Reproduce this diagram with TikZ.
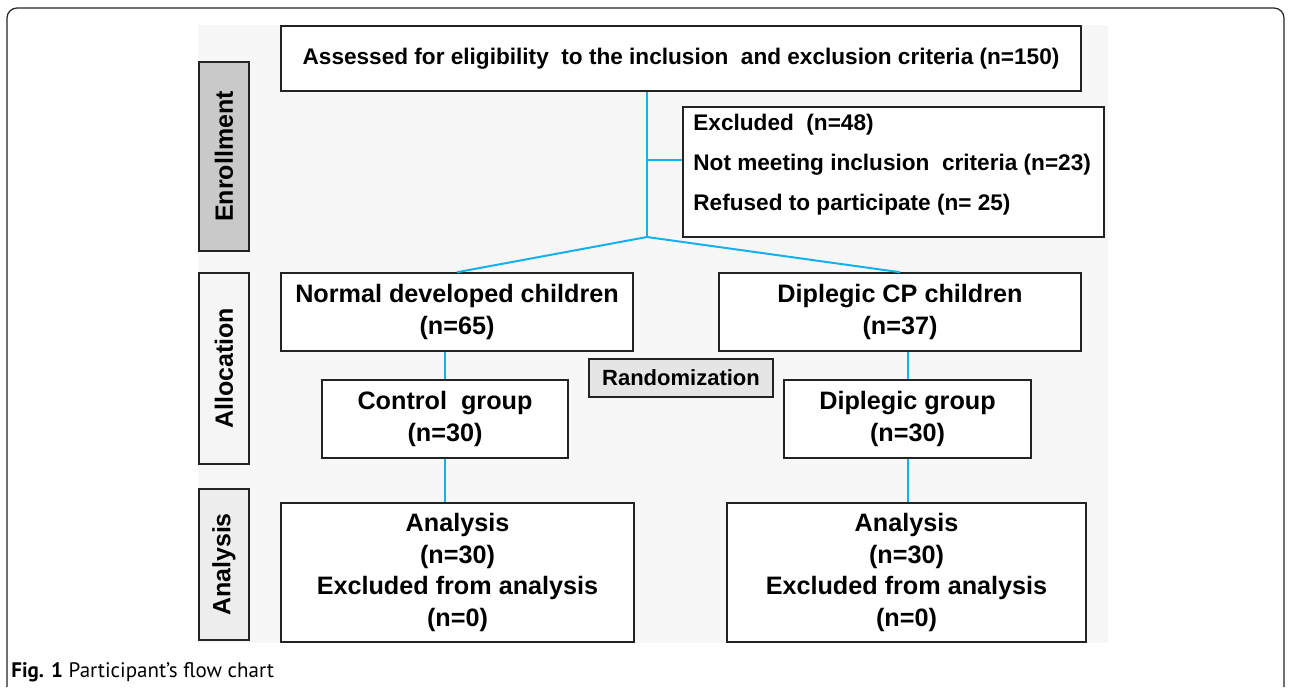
\documentclass[tikz,border=0pt]{standalone}
\usepackage{fontspec}
\setmainfont{Liberation Sans}
\newfontfamily\legende{PT Sans}
\usetikzlibrary{calc,positioning}
\definecolor{bleu}{RGB}{20,178,236}
\definecolor{fond}{RGB}{247,247,247}
\definecolor{cadre}{RGB}{35,35,35}

\begin{document}
\begin{tikzpicture}[x=0.5pt,y=-0.5pt,
    boite/.style={draw=cadre,line width=0.8pt,fill=white,inner sep=0pt,align=center,
        font=\fontsize{12.6}{15.8}\selectfont\bfseries},
    phase/.style={draw=cadre,line width=0.8pt,inner sep=0pt,rotate=90,minimum height=25pt,
        font=\fontsize{12.5}{15}\selectfont\bfseries},
    lien/.style={draw=bleu,line width=1pt}]

        % Cadre de la figure et fond gris
        \useasboundingbox (0,0) rectangle (1290,687);
        \draw[cadre,line width=0.6pt,rounded corners=5pt] (7,687) -- (7,8) -- (1284,8) -- (1284,687);
        \fill[fond] (198,25) rectangle (1108,643);

        % Colonne des phases
        \node[phase,fill=black!21,minimum width=94.5pt] (enrol) at (224,156.5) {Enrollment};
        \node[phase,fill=black!4,minimum width=95.5pt] (alloc) at (224,368.5) {Allocation};
        \node[phase,fill=black!7,minimum width=75.5pt] (analyse) at (224,564.5) {Analysis};

        % Boites du diagramme
        \node[boite,minimum width=400pt,minimum height=32.5pt,font=\fontsize{11.3}{14}\selectfont\bfseries]
            (evalue) at (681,58.5) {Assessed for eligibility\ \ to the inclusion\ \ and exclusion criteria (n=150)};
        \node[boite,minimum width=210.5pt,minimum height=65pt] (exclu) at (893.5,172) {};
        \node[anchor=west,align=left,inner sep=0pt,font=\fontsize{11.3}{20}\selectfont\bfseries]
            (exclutexte) at (693,165) {Excluded\ \ (n=48)\\Not meeting inclusion\ \ criteria (n=23)\\Refused to participate (n= 25)};
        \node[boite,minimum width=176pt,minimum height=39pt] (normal) at (457,312) {Normal developed children\\(n=65)};
        \node[boite,minimum width=181pt,minimum height=39pt] (diplcp) at (900,312) {Diplegic CP children\\(n=37)};
        \node[boite,fill=black!10,minimum width=92pt,minimum height=19pt,font=\fontsize{11}{13}\selectfont\bfseries]
            (hasard) at (681,378) {Randomization};
        \node[boite,minimum width=123pt,minimum height=39pt] (controle) at (445,419) {Control\ \ group\\(n=30)};
        \node[boite,minimum width=123.5pt,minimum height=39pt] (diplg) at (907.5,419) {Diplegic group\\(n=30)};
        \node[boite,minimum width=176.5pt,minimum height=69.5pt] (analg) at (457.5,572.5)
            {Analysis\\(n=30)\\Excluded from analysis\\(n=0)};
        \node[boite,minimum width=179.5pt,minimum height=69.5pt] (anald) at (906.5,572.5)
            {Analysis\\(n=30)\\Excluded from analysis\\(n=0)};

        % Liaisons en bleu
        \coordinate (branche) at (647,160);
        \coordinate (jonction) at (647,237);
        \draw[lien] (evalue.south -| jonction) -- (jonction);
        \draw[lien] (branche) -- (branche -| exclu.west);
        \draw[lien] (normal.north) -- (jonction) -- (diplcp.north);
        \draw[lien] (controle.north |- normal.south) -- (controle.north);
        \draw[lien] (controle.south) -- (controle.south |- analg.north);
        \draw[lien] (diplg.north |- diplcp.south) -- (diplg.north);
        \draw[lien] (diplg.south) -- (diplg.south |- anald.north);

        % Legende
        \node[anchor=base west,inner sep=0pt,font=\legende\fontsize{10.5}{12}\selectfont]
            (titre) at (11,677) {\textbf{Fig. 1} Participant’s flow chart};
    \end{tikzpicture}
\end{document}
